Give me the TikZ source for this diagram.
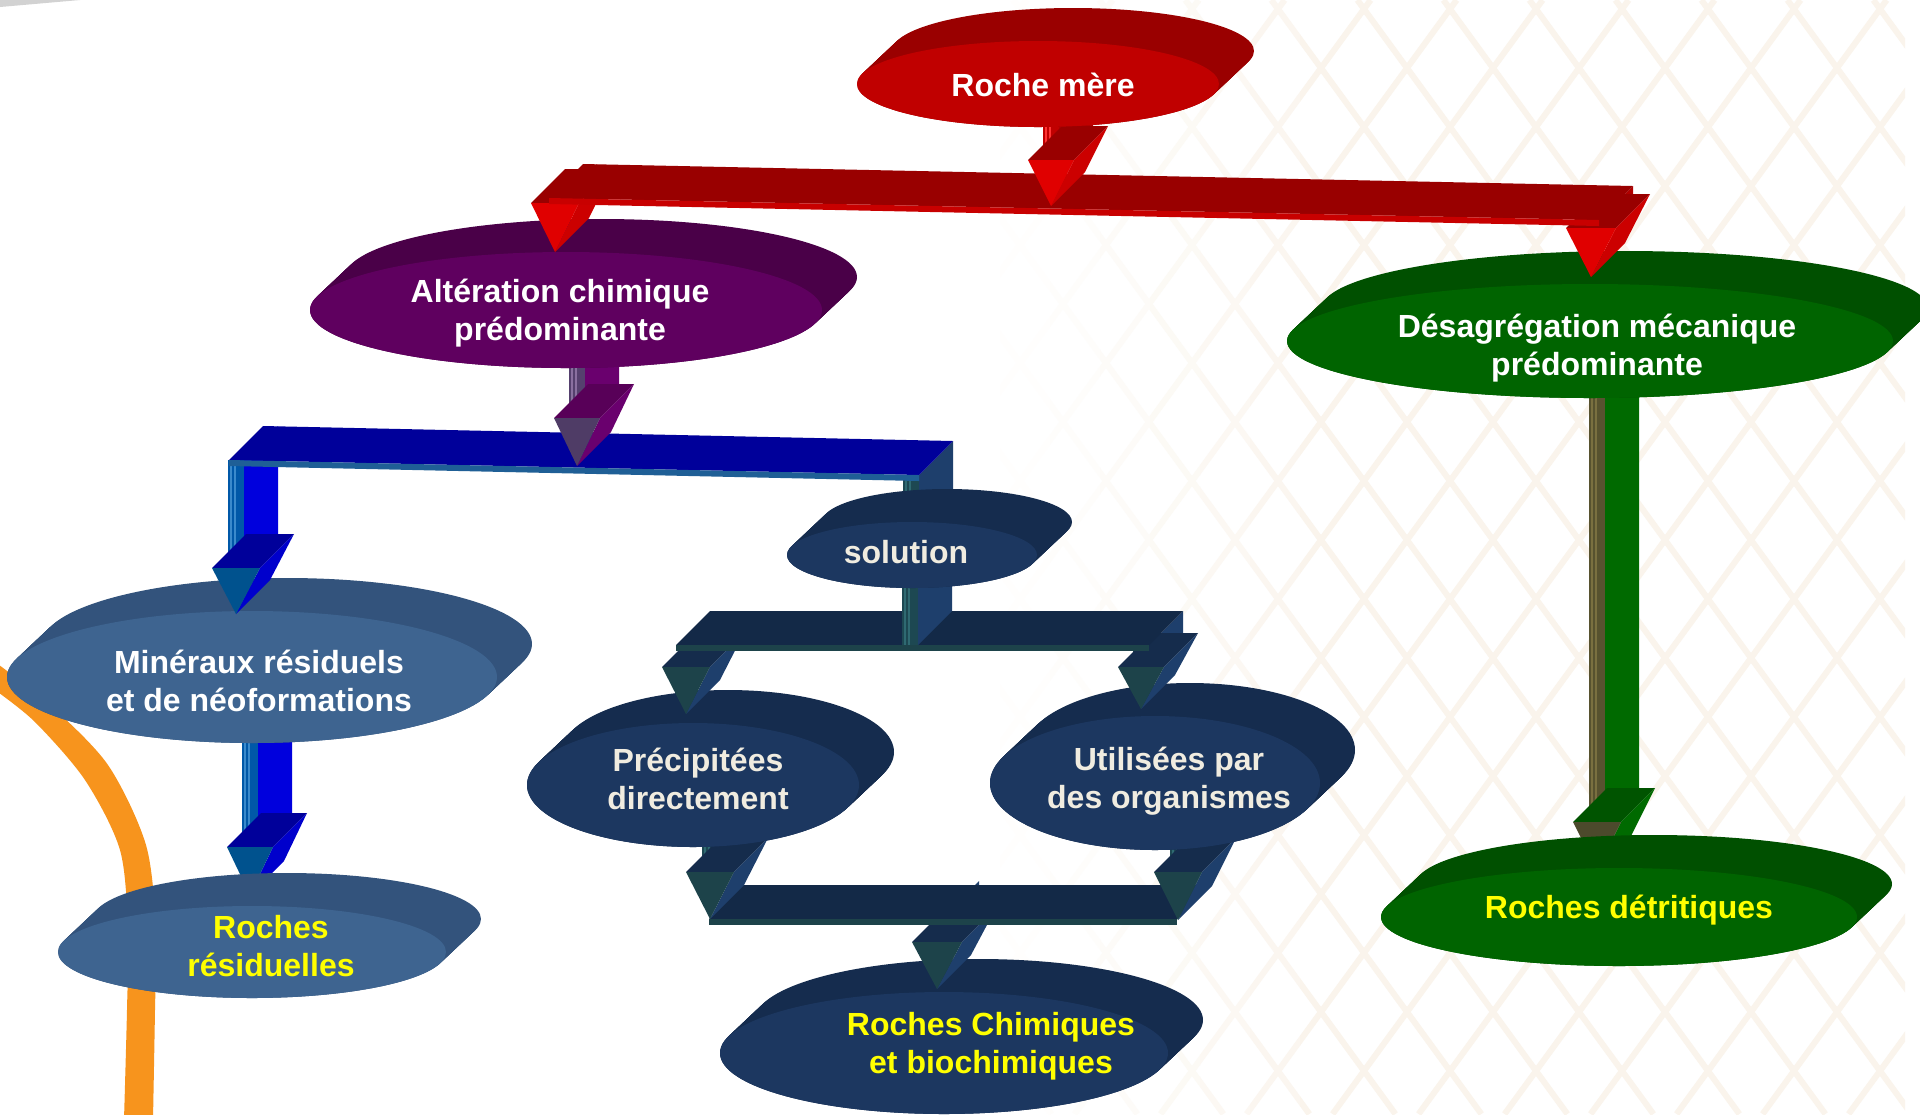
\documentclass[tikz,border=0pt]{standalone}
\usepackage{fontspec}
\setmainfont{Liberation Sans}
\definecolor{redF}{HTML}{C00000}
\definecolor{redS}{HTML}{9A0000}
\definecolor{purF}{HTML}{5F005F}
\definecolor{purS}{HTML}{4A0048}
\definecolor{grnF}{HTML}{006400}
\definecolor{grnS}{HTML}{005000}
\definecolor{stlF}{HTML}{3E6490}
\definecolor{stlS}{HTML}{33537C}
\definecolor{navF}{HTML}{1C3760}
\definecolor{navS}{HTML}{152C4E}
\definecolor{latc}{HTML}{FAF4EC}
\definecolor{orng}{HTML}{F7941D}
\definecolor{cream}{HTML}{F0ECE0}
\definecolor{yel}{HTML}{FFFF00}
\definecolor{navBarT}{HTML}{132947}
\definecolor{navBarF}{HTML}{1D434A}
\definecolor{bluBarT}{HTML}{00009A}
\definecolor{bluBarF}{HTML}{1F5F96}
\definecolor{redBarT}{HTML}{990000}
\definecolor{redBarF}{HTML}{C80000}
\newcommand{\arrowcols}[6]{\definecolor{aF}{HTML}{#1}\definecolor{aSd}{HTML}{#2}\definecolor{aT}{HTML}{#3}\definecolor{sF}{HTML}{#4}\definecolor{sL}{HTML}{#5}\definecolor{sS}{HTML}{#6}}
\newcommand{\tdstem}[3]{%
  \fill[sS] (#1+8,#2) -- ++(34,-34) -- (#1+42,#3-34) -- (#1+8,#3) -- cycle;
  \fill[sF] (#1-8,#2) rectangle (#1+8,#3);
  \draw[sL, line width=0.012cm] (#1-5,#2) -- (#1-5,#3) (#1-1,#2) -- (#1-1,#3);
}
\newcommand{\tdarrow}[5]{%
  \tdstem{#1}{#2}{#3}
  \fill[aT] (#1-#5,#3) -- (#1+#5,#3) -- ++(34,-34) -- (#1-#5+34,#3-34) -- cycle;
  \fill[aSd] (#1+#5,#3) -- ++(34,-34) -- (#1+34,#4-34) -- (#1,#4) -- cycle;
  \fill[aF] (#1-#5,#3) -- (#1+#5,#3) -- (#1,#4) -- cycle;
}
\newcommand{\tdbar}[6]{%
  \fill[#5] (#1,#2) -- (#3,#4) -- ++(34,-34) -- (#1+34,#2-34) -- cycle;
  \fill[#6] (#1,#2) -- (#3,#4) -- (#3,#4+6) -- (#1,#2+6) -- cycle;
}
\newcommand{\tddisc}[6]{%
  \foreach \qq in {0,0.04,...,1.0001} {\fill[#5] (#1+35*\qq,#2-33*\qq) ellipse [x radius=#3, y radius=#4];}
  \fill[#6] (#1,#2) ellipse [x radius=#3, y radius=#4];
}
\newcommand{\latlines}{%
  \foreach \k in {2,...,21} {\draw (67.4+\k*86,0) -- ++(812,1114);}%
  \foreach \k in {11,...,31} {\draw (80.6+\k*86,0) -- ++(-812,1114);}%
}
\begin{document}
\begin{tikzpicture}[x=0.01cm,y=-0.01cm,
  txt/.style={font=\fontsize{9.1}{10.8}\selectfont\bfseries, align=center, inner sep=0pt}]
\useasboundingbox (0,0) rectangle (1920,1114);
\clip (0,0) rectangle (1920,1114);
\fill[white] (0,0) rectangle (1920,1114);
% faint lattice background
\foreach \i/\p in {0/8,1/20,2/35,3/50,4/65,5/80} {
  \begin{scope}
    \clip (1000+\i*50,0) rectangle ++(50,1114);
    \begin{scope}[color=latc!\p, line width=0.06cm] \latlines \end{scope}
  \end{scope}
}
\begin{scope}
  \clip (1300,0) rectangle (1905,1114);
  \begin{scope}[color=latc, line width=0.06cm] \latlines \end{scope}
\end{scope}
% grey sliver top-left
\fill[gray!35] (0,0) -- (80,0) -- (0,7) -- cycle;
% orange curve
\fill[orng] plot[smooth] coordinates {(-5,662) (50,705) (108,765) (146,845) (156,930) (155,1010) (153,1120)}
  -- plot[smooth] coordinates {(124,1120) (127,1010) (128,930) (120,850) (85,780) (35,722) (-5,690)} -- cycle;

% green arrow (behind Roches detritiques)
\arrowcols{4C4A2C}{006A00}{005400}{57522F}{7A7040}{006A00}
\tdarrow{1597}{380}{822}{870}{24}
\tddisc{1619}{917}{238}{49}{grnS}{grnF}

% Roches chimiques
\tddisc{944}{1053}{224}{61}{navS}{navF}
\arrowcols{1D434A}{1E3F6C}{152C4C}{1D4852}{2F6A72}{1E3F6C}
\tdarrow{937}{915}{942}{989}{25}
\tdbar{709}{919}{1177}{919}{navBarT}{navBarF}
\tdarrow{710}{830}{872}{919}{24}
\tdarrow{1178}{835}{872}{920}{24}
\tddisc{693}{785}{166}{62}{navS}{navF}
\tddisc{1155}{783}{165}{67}{navS}{navF}
\tdarrow{686}{645}{667}{714}{24}
\tdarrow{1141}{645}{667}{709}{23}
\tdbar{676}{645}{1149}{645}{navBarT}{navBarF}
\tdstem{910}{560}{645}

% residuelles
\arrowcols{00528E}{0000CC}{00009A}{0058A8}{3A8ACC}{0000DD}
\tdarrow{250}{730}{847}{895}{23}
\tddisc{252}{952}{194}{46}{stlS}{stlF}

% stem into solution
\arrowcols{1D434A}{1E3F6C}{152C4C}{1D4852}{2F6A72}{1E3F6C}
\tdstem{911}{475}{540}
\tddisc{912}{555}{125}{33}{navS}{navF}
\tddisc{252}{677}{245}{66}{stlS}{stlF}

% blue system
\arrowcols{00528E}{0000CC}{00009A}{0058A8}{3A8ACC}{0000DD}
\tdarrow{236}{460}{568}{614}{24}
\tdbar{229}{460}{919}{475}{bluBarT}{bluBarF}

% purple arrow
\arrowcols{4F3C66}{6A006E}{580058}{55406E}{8A70A0}{6A006E}
\tdarrow{577}{355}{418}{466}{23}

\tddisc{566}{310}{256}{58}{purS}{purF}
\tddisc{1590}{341}{303}{57}{grnS}{grnF}

% red system
\arrowcols{E00000}{CC0000}{990000}{C00000}{FF3333}{B00000}
\tdarrow{555}{198}{203}{252}{24}
\tdarrow{1591}{220}{228}{277}{25}
\tdbar{549}{198}{1599}{220}{redBarT}{redBarF}
\tdarrow{1051}{110}{160}{206}{23}
\tddisc{1038}{84}{181}{43}{redS}{redF}

% texts
\node[txt, white] (rm) at (1043,85) {Roche mère};
\node[txt, white] (alt) at (560,313) {Altération chimique\\prédominante};
\node[txt, white] (des) at (1597,348) {Désagrégation mécanique\\prédominante};
\node[txt, cream] (sol) at (906,552) {solution};
\node[txt, white] (min) at (259,681) {Minéraux résiduels\\et de néoformations};
\node[txt, yel] (res) at (271,946) {Roches\\résiduelles};
\node[txt, cream] (pre) at (698,779) {Précipitées\\directement};
\node[txt, cream] (uti) at (1169,781) {Utilisées par\\des organismes};
\node[txt, yel] (chi) at (991,1046) {Roches Chimiques\\et biochimiques};
\node[txt, yel] (det) at (1629,910) {Roches détritiques};
\end{tikzpicture}
\end{document}
